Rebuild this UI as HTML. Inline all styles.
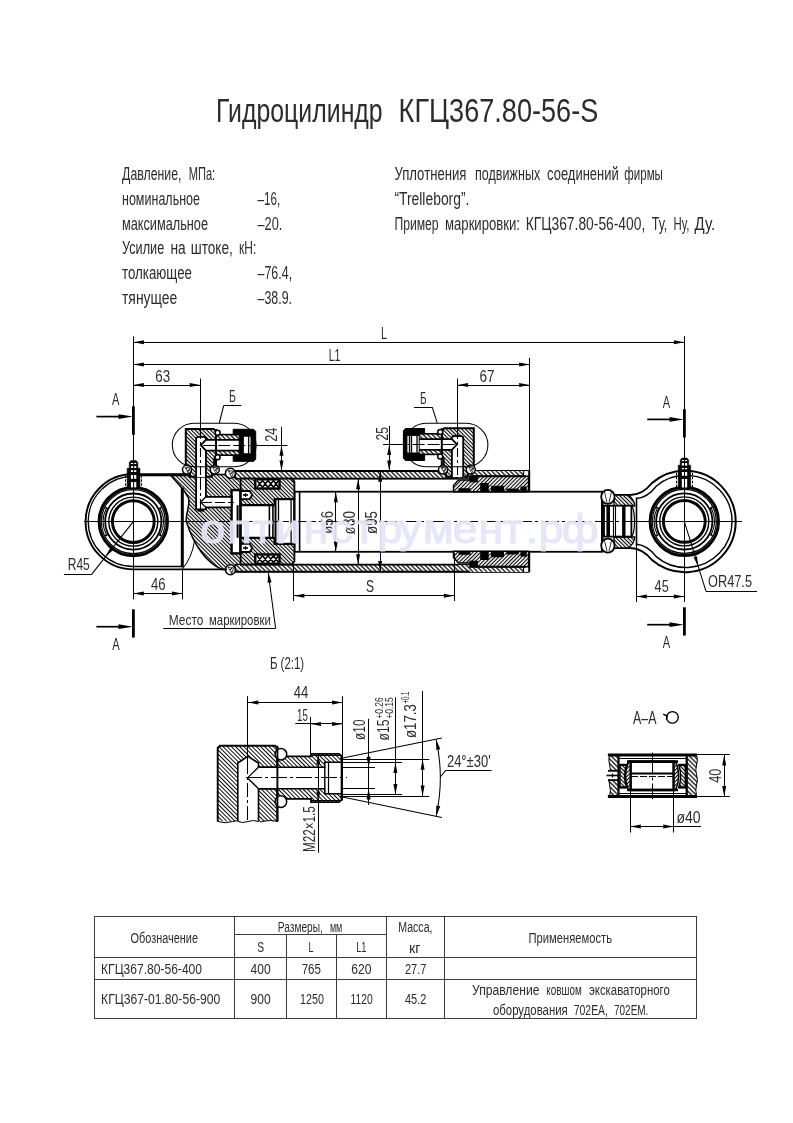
<!DOCTYPE html>
<html lang="ru"><head><meta charset="utf-8"><title>Гидроцилиндр КГЦ367.80-56-S</title>
<style>
html,body{margin:0;padding:0;background:#fff;}
body{width:793px;height:1123px;overflow:hidden;font-family:'Liberation Sans', sans-serif;}
svg{display:block;position:absolute;left:0;top:0;}
svg text{font-family:"Liberation Sans",sans-serif;}
svg{will-change:transform;}
</style></head><body>
<svg width="793" height="1123" viewBox="0 0 793 1123" stroke="#000" fill="none" stroke-linecap="butt">
<defs>
<pattern id="h1" width="2.7" height="2.7" patternUnits="userSpaceOnUse" patternTransform="rotate(-45)"><rect width="2.7" height="2.7" fill="#fff" stroke="none"/><line x1="1.35" y1="-1" x2="1.35" y2="3.7" stroke="#000" stroke-width="1.1"/></pattern>
<pattern id="h2" width="2.7" height="2.7" patternUnits="userSpaceOnUse" patternTransform="rotate(45)"><rect width="2.7" height="2.7" fill="#fff" stroke="none"/><line x1="1.35" y1="-1" x2="1.35" y2="3.7" stroke="#000" stroke-width="1.1"/></pattern>
<pattern id="h3" width="3.25" height="3.25" patternUnits="userSpaceOnUse" patternTransform="rotate(-45)"><rect width="3.25" height="3.25" fill="#fff" stroke="none"/><line x1="1.625" y1="-1" x2="1.625" y2="4.25" stroke="#000" stroke-width="1.2"/></pattern>
<pattern id="h4" width="3.25" height="3.25" patternUnits="userSpaceOnUse" patternTransform="rotate(45)"><rect width="3.25" height="3.25" fill="#fff" stroke="none"/><line x1="1.625" y1="-1" x2="1.625" y2="4.25" stroke="#000" stroke-width="1.2"/></pattern>
<pattern id="h5" width="2.95" height="2.95" patternUnits="userSpaceOnUse" patternTransform="rotate(-45)"><rect width="2.95" height="2.95" fill="#fff" stroke="none"/><line x1="1.475" y1="-1" x2="1.475" y2="3.95" stroke="#000" stroke-width="0.95"/></pattern>
</defs>
<text x="216.0" y="122.4" font-size="33" textLength="166.7" lengthAdjust="spacingAndGlyphs" text-anchor="start" fill="#2c2c2c" stroke="none" >Гидроцилиндр</text>
<text x="398.6" y="122.4" font-size="33" textLength="199.7" lengthAdjust="spacingAndGlyphs" text-anchor="start" fill="#2c2c2c" stroke="none" >КГЦ367.80-56-S</text>
<text x="122.1" y="180.2" font-size="17.5" textLength="59.3" lengthAdjust="spacingAndGlyphs" text-anchor="start" fill="#2c2c2c" stroke="none" >Давление,</text>
<text x="188.7" y="180.2" font-size="17.5" textLength="26.5" lengthAdjust="spacingAndGlyphs" text-anchor="start" fill="#2c2c2c" stroke="none" >МПа:</text>
<text x="122.0" y="205.0" font-size="17.5" textLength="78.0" lengthAdjust="spacingAndGlyphs" text-anchor="start" fill="#2c2c2c" stroke="none" >номинальное</text>
<text x="257.5" y="205.0" font-size="17.5" textLength="22.7" lengthAdjust="spacingAndGlyphs" text-anchor="start" fill="#2c2c2c" stroke="none" >–16,</text>
<text x="122.0" y="229.7" font-size="17.5" textLength="86.0" lengthAdjust="spacingAndGlyphs" text-anchor="start" fill="#2c2c2c" stroke="none" >максимальное</text>
<text x="257.5" y="229.7" font-size="17.5" textLength="24.8" lengthAdjust="spacingAndGlyphs" text-anchor="start" fill="#2c2c2c" stroke="none" >–20.</text>
<text x="122.1" y="254.3" font-size="17.5" textLength="42.1" lengthAdjust="spacingAndGlyphs" text-anchor="start" fill="#2c2c2c" stroke="none" >Усилие</text>
<text x="170.5" y="254.3" font-size="17.5" textLength="15.2" lengthAdjust="spacingAndGlyphs" text-anchor="start" fill="#2c2c2c" stroke="none" >на</text>
<text x="190.7" y="254.3" font-size="17.5" textLength="42.1" lengthAdjust="spacingAndGlyphs" text-anchor="start" fill="#2c2c2c" stroke="none" >штоке,</text>
<text x="239.1" y="254.3" font-size="17.5" textLength="17.2" lengthAdjust="spacingAndGlyphs" text-anchor="start" fill="#2c2c2c" stroke="none" >кН:</text>
<text x="122.0" y="279.1" font-size="17.5" textLength="70.0" lengthAdjust="spacingAndGlyphs" text-anchor="start" fill="#2c2c2c" stroke="none" >толкающее</text>
<text x="257.5" y="279.1" font-size="17.5" textLength="34.6" lengthAdjust="spacingAndGlyphs" text-anchor="start" fill="#2c2c2c" stroke="none" >–76.4,</text>
<text x="122.0" y="303.8" font-size="17.5" textLength="55.3" lengthAdjust="spacingAndGlyphs" text-anchor="start" fill="#2c2c2c" stroke="none" >тянущее</text>
<text x="257.5" y="303.8" font-size="17.5" textLength="34.5" lengthAdjust="spacingAndGlyphs" text-anchor="start" fill="#2c2c2c" stroke="none" >–38.9.</text>
<text x="394.4" y="180.2" font-size="17.5" textLength="72.1" lengthAdjust="spacingAndGlyphs" text-anchor="start" fill="#2c2c2c" stroke="none" >Уплотнения</text>
<text x="475.0" y="180.2" font-size="17.5" textLength="65.2" lengthAdjust="spacingAndGlyphs" text-anchor="start" fill="#2c2c2c" stroke="none" >подвижных</text>
<text x="547.1" y="180.2" font-size="17.5" textLength="71.6" lengthAdjust="spacingAndGlyphs" text-anchor="start" fill="#2c2c2c" stroke="none" >соединений</text>
<text x="624.3" y="180.2" font-size="17.5" textLength="38.6" lengthAdjust="spacingAndGlyphs" text-anchor="start" fill="#2c2c2c" stroke="none" >фирмы</text>
<text x="394.4" y="205.0" font-size="17.5" textLength="75.0" lengthAdjust="spacingAndGlyphs" text-anchor="start" fill="#2c2c2c" stroke="none" >“Trelleborg”.</text>
<text x="394.4" y="229.7" font-size="17.5" textLength="44.2" lengthAdjust="spacingAndGlyphs" text-anchor="start" fill="#2c2c2c" stroke="none" >Пример</text>
<text x="445.0" y="229.7" font-size="17.5" textLength="75.0" lengthAdjust="spacingAndGlyphs" text-anchor="start" fill="#2c2c2c" stroke="none" >маркировки:</text>
<text x="525.7" y="229.7" font-size="17.5" textLength="119.6" lengthAdjust="spacingAndGlyphs" text-anchor="start" fill="#2c2c2c" stroke="none" >КГЦ367.80-56-400,</text>
<text x="651.7" y="229.7" font-size="17.5" textLength="15.5" lengthAdjust="spacingAndGlyphs" text-anchor="start" fill="#2c2c2c" stroke="none" >Ту,</text>
<text x="673.6" y="229.7" font-size="17.5" textLength="15.9" lengthAdjust="spacingAndGlyphs" text-anchor="start" fill="#2c2c2c" stroke="none" >Ну,</text>
<text x="694.6" y="229.7" font-size="17.5" textLength="20.6" lengthAdjust="spacingAndGlyphs" text-anchor="start" fill="#2c2c2c" stroke="none" >Ду.</text>
<path d="M170,474.6 L231,474.6 L236,478.8 L240.8,478.8 L240.8,564.6 L236,564.6 L233,569.4 L222,569.4 C207,563 194,546 186.3,521.5 C185.5,512 190.5,506 188.5,498 L184,490.5 Z" stroke-width="1.5" fill="url(#h1)" />
<path d="M182.4,569 C189,561 193,551 194.5,541" stroke-width="1.05" fill="none" />
<rect x="235.3" y="471.1" width="293.9" height="7.6" stroke-width="1.0" fill="url(#h3)" />
<rect x="235.3" y="564.6" width="293.9" height="7.2" stroke-width="1.0" fill="url(#h3)" />
<line x1="234.0" y1="471.1" x2="529.2" y2="471.1" stroke-width="2.0" />
<line x1="234.0" y1="571.8" x2="529.2" y2="571.8" stroke-width="2.0" />
<line x1="240.0" y1="478.7" x2="458.0" y2="478.7" stroke-width="1.8" />
<line x1="240.0" y1="564.6" x2="458.0" y2="564.6" stroke-width="1.8" />
<rect x="294.5" y="491.7" width="307.8" height="60.1" stroke-width="1.8" fill="#fff" />
<line x1="299.6" y1="491.7" x2="299.6" y2="551.8" stroke-width="1.6" />
<line x1="602.3" y1="491.7" x2="602.3" y2="551.8" stroke-width="2.6" />
<rect x="470.0" y="471.1" width="59.2" height="5.1" stroke-width="0" fill="#fff" stroke="none"/>
<rect x="470.0" y="471.1" width="53.3" height="4.6" stroke-width="0" fill="url(#h3)" stroke="none"/>
<path d="M453.5,485.5 L458.5,480.0 L470,480.0 L470,476.2 L528.6,476.2 L528.6,491.7 L453.5,491.7 Z" stroke-width="1.5" fill="url(#h2)" />
<line x1="470.0" y1="476.2" x2="526.0" y2="476.2" stroke-width="2.0" />
<line x1="523.5" y1="471.1" x2="523.5" y2="476.2" stroke-width="1.2" />
<rect x="469.4" y="476.2" width="8.5" height="6.1" stroke-width="0" fill="#000" stroke="none"/>
<rect x="458.6" y="488.2" width="11.9" height="3.5" stroke-width="0" fill="#000" stroke="none"/>
<rect x="480.2" y="483.0" width="8.5" height="8.7" stroke-width="0" fill="#000" stroke="none"/>
<rect x="491.0" y="485.8" width="13.0" height="5.9" stroke-width="0" fill="#000" stroke="none"/>
<rect x="506.3" y="488.6" width="12.5" height="3.1" stroke-width="0" fill="#000" stroke="none"/>
<rect x="520.5" y="486.4" width="6.2" height="5.3" stroke-width="0" fill="#000" stroke="none"/>
<line x1="529.2" y1="471.1" x2="529.2" y2="491.7" stroke-width="2.0" />
<rect x="470.0" y="566.8" width="59.2" height="5.1" stroke-width="0" fill="#fff" stroke="none"/>
<rect x="470.0" y="567.3" width="53.3" height="4.6" stroke-width="0" fill="url(#h3)" stroke="none"/>
<path d="M453.5,557.5 L458.5,563.0 L470,563.0 L470,566.8 L528.6,566.8 L528.6,551.3 L453.5,551.3 Z" stroke-width="1.5" fill="url(#h2)" />
<line x1="470.0" y1="566.8" x2="526.0" y2="566.8" stroke-width="2.0" />
<line x1="523.5" y1="571.9" x2="523.5" y2="566.8" stroke-width="1.2" />
<rect x="469.4" y="560.7" width="8.5" height="6.1" stroke-width="0" fill="#000" stroke="none"/>
<rect x="458.6" y="551.3" width="11.9" height="3.5" stroke-width="0" fill="#000" stroke="none"/>
<rect x="480.2" y="551.3" width="8.5" height="8.7" stroke-width="0" fill="#000" stroke="none"/>
<rect x="491.0" y="551.3" width="13.0" height="5.9" stroke-width="0" fill="#000" stroke="none"/>
<rect x="506.3" y="551.3" width="12.5" height="3.1" stroke-width="0" fill="#000" stroke="none"/>
<rect x="520.5" y="551.3" width="6.2" height="5.3" stroke-width="0" fill="#000" stroke="none"/>
<line x1="529.2" y1="571.9" x2="529.2" y2="551.3" stroke-width="2.0" />
<path d="M240.6,478.7 L292,478.7 L294.4,481.5 L294.4,499.1 L274.4,499.1 L274.4,505.2 L240.6,505.2 Z" stroke-width="1.8" fill="url(#h1)" />
<rect x="255.3" y="479.3" width="24.2" height="9.2" stroke-width="2.4" fill="#fff" />
<path d="M257,480.5 L262.5,487.3 L268,480.5 L273.5,487.3 L278.5,480.5 M257,487.3 L262.5,480.5 L268,487.3 L273.5,480.5 L278.5,487.3" stroke-width="1.5" fill="none" />
<path d="M240.6,491.0 L249.7,491.0 L252.3,495.0 L249.7,499.1 L240.6,499.1 Z" stroke-width="1.8" fill="#fff" />
<line x1="243.0" y1="495.0" x2="248.0" y2="495.0" stroke-width="1.6" />
<line x1="245.5" y1="493.2" x2="245.5" y2="496.9" stroke-width="1.2" />
<line x1="237.6" y1="505.2" x2="237.6" y2="521.5" stroke-width="2.0" />
<line x1="240.6" y1="505.2" x2="240.6" y2="521.5" stroke-width="1.4" />
<line x1="269.4" y1="505.2" x2="269.4" y2="521.5" stroke-width="1.6" />
<line x1="272.9" y1="505.2" x2="272.9" y2="521.5" stroke-width="1.6" />
<line x1="275.5" y1="499.1" x2="275.5" y2="521.5" stroke-width="2.0" />
<line x1="278.5" y1="499.1" x2="278.5" y2="521.5" stroke-width="1.3" />
<line x1="291.1" y1="499.1" x2="291.1" y2="521.5" stroke-width="1.3" />
<line x1="294.2" y1="499.1" x2="294.2" y2="521.5" stroke-width="2.0" />
<line x1="237.6" y1="505.2" x2="274.4" y2="505.2" stroke-width="2.2" />
<line x1="274.4" y1="499.1" x2="294.4" y2="499.1" stroke-width="2.2" />
<path d="M240.6,564.3 L292,564.3 L294.4,561.5 L294.4,543.9 L274.4,543.9 L274.4,537.8 L240.6,537.8 Z" stroke-width="1.8" fill="url(#h1)" />
<rect x="255.3" y="554.5" width="24.2" height="9.2" stroke-width="2.4" fill="#fff" />
<path d="M257,562.5 L262.5,555.7 L268,562.5 L273.5,555.7 L278.5,562.5 M257,555.7 L262.5,562.5 L268,555.7 L273.5,562.5 L278.5,555.7" stroke-width="1.5" fill="none" />
<path d="M240.6,552.0 L249.7,552.0 L252.3,548.0 L249.7,543.9 L240.6,543.9 Z" stroke-width="1.8" fill="#fff" />
<line x1="243.0" y1="548.0" x2="248.0" y2="548.0" stroke-width="1.6" />
<line x1="245.5" y1="549.8" x2="245.5" y2="546.1" stroke-width="1.2" />
<line x1="237.6" y1="537.8" x2="237.6" y2="521.5" stroke-width="2.0" />
<line x1="240.6" y1="537.8" x2="240.6" y2="521.5" stroke-width="1.4" />
<line x1="269.4" y1="537.8" x2="269.4" y2="521.5" stroke-width="1.6" />
<line x1="272.9" y1="537.8" x2="272.9" y2="521.5" stroke-width="1.6" />
<line x1="275.5" y1="543.9" x2="275.5" y2="521.5" stroke-width="2.0" />
<line x1="278.5" y1="543.9" x2="278.5" y2="521.5" stroke-width="1.3" />
<line x1="291.1" y1="543.9" x2="291.1" y2="521.5" stroke-width="1.3" />
<line x1="294.2" y1="543.9" x2="294.2" y2="521.5" stroke-width="2.0" />
<line x1="237.6" y1="537.8" x2="274.4" y2="537.8" stroke-width="2.2" />
<line x1="274.4" y1="543.9" x2="294.4" y2="543.9" stroke-width="2.2" />
<rect x="231.6" y="490.1" width="8.7" height="63.3" stroke-width="2.4" fill="#fff" />
<line x1="237.6" y1="505.2" x2="237.6" y2="537.8" stroke-width="2.0" />
<path d="M196.1,474.6 L196.1,509.4 L205.9,509.4 L205.9,507.4 L231.6,507.4 L231.6,496.8 L205.9,496.8 L205.9,474.6 Z" stroke-width="1.8" fill="#fff" />
<path d="M205.9,496.8 L200.5,502.3 L205.9,507.4" stroke-width="1.3" fill="none" />
<line x1="197.5" y1="510.6" x2="204.0" y2="510.6" stroke-width="2.0" />
<line x1="200.5" y1="430.0" x2="200.5" y2="512.0" stroke-width="1.05" stroke-dasharray="14 3 3 3"/>
<line x1="202.0" y1="502.5" x2="234.0" y2="502.5" stroke-width="1.05" stroke-dasharray="10 3"/>
<circle cx="230.4" cy="473.2" r="5.0" stroke-width="1.5" fill="#fff" />
<path d="M227.9,470.4 L233.9,471.2 L231.7,477.2 Z" stroke-width="0.6" fill="url(#h2)" />
<circle cx="230.4" cy="569.8" r="5.0" stroke-width="1.5" fill="#fff" />
<path d="M227.9,567.0 L233.9,567.8 L231.7,573.8 Z" stroke-width="0.6" fill="url(#h2)" />
<path d="M133.3,474 A47.7,47.7 0 0 0 133.3,569.4" stroke-width="1.9" fill="none" />
<path d="M133.3,476.4 A45.05,45.05 0 0 0 133.3,566.5" stroke-width="1.3" fill="none" />
<line x1="139.7" y1="474.8" x2="191.0" y2="474.8" stroke-width="3.0" />
<line x1="133.0" y1="569.4" x2="227.0" y2="569.4" stroke-width="1.9" />
<line x1="133.0" y1="566.5" x2="182.3" y2="566.5" stroke-width="1.7" />
<line x1="182.3" y1="487.6" x2="182.3" y2="567.3" stroke-width="3" />
<circle cx="133.3" cy="521.6" r="34.2" stroke-width="3.0" fill="#fff" />
<circle cx="133.3" cy="521.6" r="32.0" stroke-width="1.2" fill="none" />
<circle cx="133.3" cy="521.6" r="28.1" stroke-width="1.8" fill="none" />
<circle cx="133.3" cy="521.6" r="24.5" stroke-width="1.4" fill="none" />
<circle cx="133.3" cy="521.6" r="20.9" stroke-width="2.9" fill="none" />
<path d="M160.1,507.9 A30.1,30.1 0 0 1 160.1,535.3" stroke-width="1.05" fill="none" />
<line x1="158.4" y1="508.8" x2="161.8" y2="507.1" stroke-width="1.2" />
<line x1="158.4" y1="534.4" x2="161.8" y2="536.1" stroke-width="1.2" />
<path d="M106.5,535.3 A30.1,30.1 0 0 1 106.5,507.9" stroke-width="1.05" fill="none" />
<line x1="108.2" y1="534.4" x2="104.8" y2="536.1" stroke-width="1.2" />
<line x1="108.2" y1="508.8" x2="104.8" y2="507.1" stroke-width="1.2" />
<line x1="92.3" y1="521.5" x2="174.3" y2="521.5" stroke-width="1.05" />
<line x1="133.5" y1="482.6" x2="133.5" y2="571.6" stroke-width="1.05" />
<path d="M129.25,468.3 L129.25,462.5 L130.95000000000002,460.6 L136.15,460.6 L137.85000000000002,462.5 L137.85000000000002,468.3 L139.95000000000002,468.3 L139.95000000000002,488.4 L127.15,488.4 L127.15,468.3 Z" stroke-width="0.6" fill="#000" />
<rect x="130.9" y="462.9" width="2.2" height="1.2" stroke-width="0" fill="#fff" stroke="none"/>
<rect x="134.1" y="462.9" width="2.2" height="1.2" stroke-width="0" fill="#fff" stroke="none"/>
<rect x="130.9" y="466.1" width="2.2" height="1.8" stroke-width="0" fill="#fff" stroke="none"/>
<rect x="134.1" y="466.1" width="2.2" height="1.8" stroke-width="0" fill="#fff" stroke="none"/>
<rect x="130.9" y="470.2" width="2.2" height="1.8" stroke-width="0" fill="#fff" stroke="none"/>
<rect x="134.1" y="470.2" width="2.2" height="1.8" stroke-width="0" fill="#fff" stroke="none"/>
<rect x="130.9" y="475.0" width="2.2" height="3.8" stroke-width="0" fill="#fff" stroke="none"/>
<rect x="134.1" y="475.0" width="2.2" height="3.8" stroke-width="0" fill="#fff" stroke="none"/>
<rect x="130.9" y="482.0" width="2.2" height="5.4" stroke-width="0" fill="#fff" stroke="none"/>
<rect x="134.1" y="482.0" width="2.2" height="5.4" stroke-width="0" fill="#fff" stroke="none"/>
<line x1="125.5" y1="475.3" x2="125.5" y2="488.4" stroke-width="1.0" stroke-dasharray="2.5 1.5"/>
<line x1="141.5" y1="475.3" x2="141.5" y2="488.4" stroke-width="1.0" stroke-dasharray="2.5 1.5"/>
<line x1="84.0" y1="521.5" x2="190.0" y2="521.5" stroke-width="1.05" />
<path d="M185.8,429 L213.7,429 L216.0,431.5 L216.0,456 L214.2,459 L214.2,470 L211.9,470 L211.9,476.7 L190.0,476.7 L190.0,470 L185.8,470 Z" stroke-width="2.0" fill="url(#h1)" />
<path d="M196.1,477 L196.1,438 L198.1,436.8 L203.7,436.8 L205.9,438 L205.9,477" stroke-width="1.8" fill="#fff" />
<rect x="216.0" y="434.6" width="27.2" height="20.6" stroke-width="1.6" fill="url(#h3)" />
<path d="M200.8,445.2 L205.9,439.9 L243.2,439.9 L243.2,450.6 L205.9,450.6 Z" stroke-width="1.8" fill="#fff" />
<path d="M233.2,429.3 L253.7,429.3 L255.7,431.5 L255.7,459 L253.7,461.3 L233.2,461.3 L233.2,455.2 L239.2,455.2 L239.2,434.6 L233.2,434.6 Z" stroke-width="1.0" fill="#000" />
<rect x="243.3" y="436.2" width="7.7" height="17.6" stroke-width="1.0" fill="#fff" />
<line x1="248.6" y1="436.4" x2="248.6" y2="453.6" stroke-width="1.3" />
<line x1="203.2" y1="445.5" x2="250.2" y2="445.5" stroke-width="1.05" stroke-dasharray="12 3"/>
<line x1="216.0" y1="429.0" x2="216.0" y2="470.0" stroke-width="2.0" />
<line x1="200.5" y1="430.0" x2="200.5" y2="478.0" stroke-width="1.05" stroke-dasharray="9 3 3 3"/>
<circle cx="187.0" cy="469.6" r="4.5" stroke-width="1.5" fill="#fff" />
<path d="M184.8,467.1 L190.2,467.8 L188.1,473.2 Z" stroke-width="0.6" fill="url(#h2)" />
<circle cx="214.8" cy="469.6" r="4.5" stroke-width="1.5" fill="#fff" />
<path d="M212.5,467.1 L217.9,467.8 L215.9,473.2 Z" stroke-width="0.6" fill="url(#h2)" />
<circle cx="217.6" cy="432.8" r="2.5" stroke-width="1.5" fill="#fff" />
<circle cx="217.6" cy="457.2" r="2.5" stroke-width="1.5" fill="#fff" />
<path d="M473.8,428.2 L444.1,428.2 L441.8,430.7 L441.8,456 L443.6,459 L443.6,470 L445.9,470 L445.9,476.7 L467.8,476.7 L467.8,470 L473.8,470 Z" stroke-width="2.0" fill="url(#h1)" />
<path d="M463.2,477 L463.2,437.2 L461.2,436.0 L454.1,436.0 L451.9,437.2 L451.9,477" stroke-width="1.8" fill="#fff" />
<rect x="414.6" y="433.8" width="27.2" height="20.6" stroke-width="1.6" fill="url(#h3)" />
<path d="M457.0,444.4 L451.9,439.09999999999997 L414.6,439.09999999999997 L414.6,449.8 L451.9,449.8 Z" stroke-width="1.8" fill="#fff" />
<path d="M424.6,428.5 L405.4,428.5 L403.4,430.7 L403.4,458.2 L405.4,460.5 L424.6,460.5 L424.6,454.4 L418.6,454.4 L418.6,433.8 L424.6,433.8 Z" stroke-width="1.0" fill="#000" />
<rect x="406.9" y="435.4" width="12.3" height="17.6" stroke-width="1.0" fill="#fff" />
<line x1="409.5" y1="435.6" x2="409.5" y2="452.8" stroke-width="1.3" />
<line x1="411.5" y1="435.6" x2="411.5" y2="452.8" stroke-width="1.3" />
<line x1="417.0" y1="435.6" x2="417.0" y2="452.8" stroke-width="1.3" />
<line x1="454.6" y1="444.5" x2="407.6" y2="444.5" stroke-width="1.05" stroke-dasharray="12 3"/>
<line x1="441.8" y1="428.2" x2="441.8" y2="470.0" stroke-width="2.0" />
<line x1="457.5" y1="430.0" x2="457.5" y2="478.0" stroke-width="1.05" stroke-dasharray="9 3 3 3"/>
<circle cx="470.8" cy="469.6" r="4.5" stroke-width="1.5" fill="#fff" />
<path d="M468.6,467.1 L473.9,467.8 L471.9,473.2 Z" stroke-width="0.6" fill="url(#h2)" />
<circle cx="443.0" cy="469.6" r="4.5" stroke-width="1.5" fill="#fff" />
<path d="M440.8,467.1 L446.1,467.8 L444.1,473.2 Z" stroke-width="0.6" fill="url(#h2)" />
<circle cx="440.2" cy="432.0" r="2.5" stroke-width="1.5" fill="#fff" />
<circle cx="440.2" cy="456.4" r="2.5" stroke-width="1.5" fill="#fff" />
<path d="M614,495.1 L630,495.1 C640,495 646,490.5 652,483 A50.7,50.7 0 1 1 652,560 C646,552.5 640,548 630,547.9 L614,547.9" stroke-width="2.0" fill="none" />
<path d="M636.6,498.5 C645,497.8 651,493 656.2,486.2 A46.1,46.1 0 1 1 656.2,556.6 C651,549.8 645,545 636.6,544.3" stroke-width="1.4" fill="none" />
<path d="M614,495.1 L628,495.1 C632,497 634.6,502 634.8,506 L614,506 Z" stroke-width="1.3" fill="url(#h1)" />
<path d="M614,547.9 L628,547.9 C632,546 634.6,541 634.8,537 L614,537 Z" stroke-width="1.3" fill="url(#h1)" />
<path d="M631.4,505.7 C635.5,510 635.5,533 631.4,536.8" stroke-width="1.2" fill="none" />
<line x1="636.5" y1="497.5" x2="636.5" y2="546.0" stroke-width="1.6" />
<rect x="604.0" y="505.7" width="27.4" height="30.9" stroke-width="1.8" fill="#fff" />
<line x1="608.2" y1="505.7" x2="608.2" y2="536.6" stroke-width="3.6" />
<line x1="613.5" y1="505.7" x2="613.5" y2="536.6" stroke-width="1.1" />
<line x1="615.5" y1="505.7" x2="615.5" y2="536.6" stroke-width="1.1" />
<line x1="623.8" y1="505.7" x2="623.8" y2="536.6" stroke-width="3.4" />
<ellipse cx="607.9" cy="496.9" rx="6.7" ry="7" stroke-width="1.8" fill="#fff"/>
<path d="M604.5,491.9 L607,502.4 M611.5,491.9 L609,502.4" stroke-width="0.8" fill="none" />
<ellipse cx="607.9" cy="545.6" rx="6.7" ry="7" stroke-width="1.8" fill="#fff"/>
<path d="M604.5,540.6 L607,551.1 M611.5,540.6 L609,551.1" stroke-width="0.8" fill="none" />
<circle cx="684.3" cy="521.4" r="34.2" stroke-width="3.0" fill="#fff" />
<circle cx="684.3" cy="521.4" r="32.0" stroke-width="1.2" fill="none" />
<circle cx="684.3" cy="521.4" r="28.1" stroke-width="1.8" fill="none" />
<circle cx="684.3" cy="521.4" r="24.5" stroke-width="1.4" fill="none" />
<circle cx="684.3" cy="521.4" r="20.9" stroke-width="2.9" fill="none" />
<path d="M711.1,507.7 A30.1,30.1 0 0 1 711.1,535.1" stroke-width="1.05" fill="none" />
<line x1="709.4" y1="508.6" x2="712.8" y2="506.9" stroke-width="1.2" />
<line x1="709.4" y1="534.2" x2="712.8" y2="535.9" stroke-width="1.2" />
<path d="M657.5,535.1 A30.1,30.1 0 0 1 657.5,507.7" stroke-width="1.05" fill="none" />
<line x1="659.2" y1="534.2" x2="655.8" y2="535.9" stroke-width="1.2" />
<line x1="659.2" y1="508.6" x2="655.8" y2="506.9" stroke-width="1.2" />
<line x1="643.3" y1="521.5" x2="725.3" y2="521.5" stroke-width="1.05" />
<line x1="684.5" y1="482.4" x2="684.5" y2="571.4" stroke-width="1.05" />
<path d="M680.25,465.2 L680.25,460.0 L681.85,458.1 L687.0500000000001,458.1 L688.6500000000001,460.0 L688.6500000000001,465.2 L690.6500000000001,465.2 L690.6500000000001,487.9 L678.25,487.9 L678.25,465.2 Z" stroke-width="0.6" fill="#000" />
<rect x="681.8" y="460.1" width="2.2" height="1.1" stroke-width="0" fill="#fff" stroke="none"/>
<rect x="685.0" y="460.1" width="2.2" height="1.1" stroke-width="0" fill="#fff" stroke="none"/>
<rect x="681.8" y="463.1" width="2.2" height="2.5" stroke-width="0" fill="#fff" stroke="none"/>
<rect x="685.0" y="463.1" width="2.2" height="2.5" stroke-width="0" fill="#fff" stroke="none"/>
<rect x="681.8" y="468.0" width="2.2" height="1.2" stroke-width="0" fill="#fff" stroke="none"/>
<rect x="685.0" y="468.0" width="2.2" height="1.2" stroke-width="0" fill="#fff" stroke="none"/>
<rect x="681.8" y="472.0" width="2.2" height="3.8" stroke-width="0" fill="#fff" stroke="none"/>
<rect x="685.0" y="472.0" width="2.2" height="3.8" stroke-width="0" fill="#fff" stroke="none"/>
<rect x="681.8" y="479.0" width="2.2" height="8.5" stroke-width="0" fill="#fff" stroke="none"/>
<rect x="685.0" y="479.0" width="2.2" height="8.5" stroke-width="0" fill="#fff" stroke="none"/>
<line x1="676.5" y1="472.8" x2="676.5" y2="487.9" stroke-width="1.0" stroke-dasharray="2.5 1.5"/>
<line x1="692.5" y1="472.8" x2="692.5" y2="487.9" stroke-width="1.0" stroke-dasharray="2.5 1.5"/>
<line x1="636.4" y1="521.5" x2="742.0" y2="521.5" stroke-width="1.05" />
<line x1="190.0" y1="521.5" x2="640.0" y2="521.5" stroke-width="1.05" stroke-dasharray="18 3 3 3"/>
<line x1="133.5" y1="336.4" x2="133.5" y2="460.0" stroke-width="1.05" />
<line x1="684.5" y1="336.0" x2="684.5" y2="458.0" stroke-width="1.05" />
<line x1="133.4" y1="342.5" x2="684.4" y2="342.5" stroke-width="1.05" />
<path d="M133.4,342.2 L143.9,340.2 L143.9,344.2 Z" fill="#000" stroke="none"/>
<path d="M684.4,342.2 L673.9,344.2 L673.9,340.2 Z" fill="#000" stroke="none"/>
<text x="381.0" y="338.7" font-size="16.5" textLength="6.0" lengthAdjust="spacingAndGlyphs" text-anchor="start" fill="#2c2c2c" stroke="none" >L</text>
<line x1="529.5" y1="358.0" x2="529.5" y2="471.0" stroke-width="1.05" />
<line x1="133.4" y1="364.5" x2="529.6" y2="364.5" stroke-width="1.05" />
<path d="M133.4,364.4 L143.9,362.4 L143.9,366.4 Z" fill="#000" stroke="none"/>
<path d="M529.6,364.4 L519.1,366.4 L519.1,362.4 Z" fill="#000" stroke="none"/>
<text x="328.7" y="361.0" font-size="16.5" textLength="11.8" lengthAdjust="spacingAndGlyphs" text-anchor="start" fill="#2c2c2c" stroke="none" >L1</text>
<line x1="200.5" y1="378.5" x2="200.5" y2="430.0" stroke-width="1.05" />
<line x1="133.4" y1="385.5" x2="200.2" y2="385.5" stroke-width="1.05" />
<path d="M133.4,385.1 L143.9,383.1 L143.9,387.1 Z" fill="#000" stroke="none"/>
<path d="M200.2,385.1 L189.7,387.1 L189.7,383.1 Z" fill="#000" stroke="none"/>
<text x="155.3" y="381.8" font-size="16.5" textLength="14.9" lengthAdjust="spacingAndGlyphs" text-anchor="start" fill="#2c2c2c" stroke="none" >63</text>
<line x1="457.5" y1="378.5" x2="457.5" y2="430.0" stroke-width="1.05" />
<line x1="457.6" y1="385.5" x2="529.6" y2="385.5" stroke-width="1.05" />
<path d="M457.6,385.1 L468.1,383.1 L468.1,387.1 Z" fill="#000" stroke="none"/>
<path d="M529.6,385.1 L519.1,387.1 L519.1,383.1 Z" fill="#000" stroke="none"/>
<text x="479.5" y="382.2" font-size="16.5" textLength="15.0" lengthAdjust="spacingAndGlyphs" text-anchor="start" fill="#2c2c2c" stroke="none" >67</text>
<line x1="133.4" y1="406.3" x2="133.4" y2="434.8" stroke-width="2.8" />
<line x1="96.4" y1="416.6" x2="123.4" y2="416.6" stroke-width="1.7" />
<path d="M133.0,416.6 L118.5,419.0 L118.5,414.2 Z" fill="#000" stroke="none"/>
<text x="112.0" y="405.0" font-size="17.3" textLength="7.4" lengthAdjust="spacingAndGlyphs" text-anchor="start" fill="#2c2c2c" stroke="none" >A</text>
<line x1="133.4" y1="609.3" x2="133.4" y2="637.6" stroke-width="2.8" />
<line x1="96.4" y1="626.7" x2="123.4" y2="626.7" stroke-width="1.7" />
<path d="M133.0,626.7 L118.5,629.1 L118.5,624.3 Z" fill="#000" stroke="none"/>
<text x="112.3" y="650.2" font-size="17.3" textLength="7.4" lengthAdjust="spacingAndGlyphs" text-anchor="start" fill="#2c2c2c" stroke="none" >A</text>
<line x1="684.4" y1="409.2" x2="684.4" y2="437.6" stroke-width="2.8" />
<line x1="647.2" y1="419.4" x2="674.4" y2="419.4" stroke-width="1.7" />
<path d="M684.0,419.4 L669.5,421.8 L669.5,417.0 Z" fill="#000" stroke="none"/>
<text x="662.8" y="407.8" font-size="17.3" textLength="7.4" lengthAdjust="spacingAndGlyphs" text-anchor="start" fill="#2c2c2c" stroke="none" >A</text>
<line x1="684.4" y1="607.3" x2="684.4" y2="635.6" stroke-width="2.8" />
<line x1="647.2" y1="624.7" x2="674.4" y2="624.7" stroke-width="1.7" />
<path d="M684.0,624.7 L669.5,627.1 L669.5,622.3 Z" fill="#000" stroke="none"/>
<text x="662.8" y="648.3" font-size="17.3" textLength="7.4" lengthAdjust="spacingAndGlyphs" text-anchor="start" fill="#2c2c2c" stroke="none" >A</text>
<text x="229.0" y="401.8" font-size="17" textLength="6.9" lengthAdjust="spacingAndGlyphs" text-anchor="start" fill="#2c2c2c" stroke="none" >Б</text>
<line x1="223.7" y1="405.5" x2="241.3" y2="405.5" stroke-width="1.05" />
<line x1="223.7" y1="405.5" x2="219.3" y2="423.0" stroke-width="1.05" />
<text x="420.0" y="403.6" font-size="17" textLength="6.6" lengthAdjust="spacingAndGlyphs" text-anchor="start" fill="#2c2c2c" stroke="none" >Б</text>
<line x1="413.9" y1="407.5" x2="432.2" y2="407.5" stroke-width="1.05" />
<line x1="432.2" y1="407.1" x2="437.2" y2="422.8" stroke-width="1.05" />
<path d="M194,423.3 L234.5,423.3 A21.7,21.7 0 0 1 234.5,466.7 L194,466.7 A21.7,21.7 0 0 1 194,423.3 Z" stroke-width="1.05" fill="none" />
<path d="M426,423.3 L466.2,423.3 A21.7,21.7 0 0 1 466.2,466.7 L426,466.7 A21.7,21.7 0 0 1 426,423.3 Z" stroke-width="1.05" fill="none" />
<line x1="255.0" y1="445.5" x2="287.5" y2="445.5" stroke-width="1.05" />
<line x1="281.5" y1="426.8" x2="281.5" y2="471.0" stroke-width="1.05" />
<path d="M281.5,445.3 L283.5,455.8 L279.5,455.8 Z" fill="#000" stroke="none"/>
<path d="M281.5,471.0 L279.5,460.5 L283.5,460.5 Z" fill="#000" stroke="none"/>
<text x="277.4" y="441.8" font-size="16.5" textLength="14.1" lengthAdjust="spacingAndGlyphs" transform="rotate(-90 277.4 441.8)" text-anchor="start" fill="#2c2c2c" stroke="none" >24</text>
<line x1="383.0" y1="444.5" x2="403.5" y2="444.5" stroke-width="1.05" />
<line x1="389.5" y1="426.0" x2="389.5" y2="471.0" stroke-width="1.05" />
<path d="M389.2,444.5 L391.2,455.0 L387.2,455.0 Z" fill="#000" stroke="none"/>
<path d="M389.2,471.0 L387.2,460.5 L391.2,460.5 Z" fill="#000" stroke="none"/>
<text x="387.6" y="440.6" font-size="16.5" textLength="13.6" lengthAdjust="spacingAndGlyphs" transform="rotate(-90 387.6 440.6)" text-anchor="start" fill="#2c2c2c" stroke="none" >25</text>
<line x1="335.5" y1="491.7" x2="335.5" y2="551.9" stroke-width="1.05" />
<path d="M335.8,491.7 L337.8,502.2 L333.8,502.2 Z" fill="#000" stroke="none"/>
<path d="M335.8,551.9 L333.8,541.4 L337.8,541.4 Z" fill="#000" stroke="none"/>
<text x="333.1" y="533.7" font-size="16.5" textLength="22.7" lengthAdjust="spacingAndGlyphs" transform="rotate(-90 333.1 533.7)" text-anchor="start" fill="#2c2c2c" stroke="none" >ø56</text>
<line x1="358.5" y1="478.8" x2="358.5" y2="564.8" stroke-width="1.05" />
<path d="M358.1,478.8 L360.1,489.3 L356.1,489.3 Z" fill="#000" stroke="none"/>
<path d="M358.1,564.8 L356.1,554.3 L360.1,554.3 Z" fill="#000" stroke="none"/>
<text x="355.1" y="534.4" font-size="16.5" textLength="23.4" lengthAdjust="spacingAndGlyphs" transform="rotate(-90 355.1 534.4)" text-anchor="start" fill="#2c2c2c" stroke="none" >ø80</text>
<line x1="380.5" y1="471.3" x2="380.5" y2="571.6" stroke-width="1.05" />
<path d="M380.1,471.3 L382.1,481.8 L378.1,481.8 Z" fill="#000" stroke="none"/>
<path d="M380.1,571.6 L378.1,561.1 L382.1,561.1 Z" fill="#000" stroke="none"/>
<text x="376.9" y="534.0" font-size="16.5" textLength="23.0" lengthAdjust="spacingAndGlyphs" transform="rotate(-90 376.9 534.0)" text-anchor="start" fill="#2c2c2c" stroke="none" >ø95</text>
<line x1="293.5" y1="565.0" x2="293.5" y2="601.0" stroke-width="1.05" />
<line x1="454.5" y1="553.0" x2="454.5" y2="601.0" stroke-width="1.05" />
<line x1="293.9" y1="595.5" x2="454.3" y2="595.5" stroke-width="1.05" />
<path d="M293.9,595.7 L304.4,593.7 L304.4,597.7 Z" fill="#000" stroke="none"/>
<path d="M454.3,595.7 L443.8,597.7 L443.8,593.7 Z" fill="#000" stroke="none"/>
<text x="366.0" y="592.3" font-size="16.5" textLength="8.0" lengthAdjust="spacingAndGlyphs" text-anchor="start" fill="#2c2c2c" stroke="none" >S</text>
<line x1="133.5" y1="569.0" x2="133.5" y2="599.3" stroke-width="1.05" />
<line x1="182.5" y1="569.0" x2="182.5" y2="599.3" stroke-width="1.05" />
<line x1="133.3" y1="593.5" x2="182.4" y2="593.5" stroke-width="1.05" />
<path d="M133.3,593.4 L143.8,591.4 L143.8,595.4 Z" fill="#000" stroke="none"/>
<path d="M182.4,593.4 L171.9,595.4 L171.9,591.4 Z" fill="#000" stroke="none"/>
<text x="150.9" y="589.5" font-size="16.5" textLength="14.6" lengthAdjust="spacingAndGlyphs" text-anchor="start" fill="#2c2c2c" stroke="none" >46</text>
<line x1="636.5" y1="546.0" x2="636.5" y2="602.0" stroke-width="1.05" />
<line x1="684.5" y1="572.0" x2="684.5" y2="602.0" stroke-width="1.05" />
<line x1="636.4" y1="596.5" x2="684.3" y2="596.5" stroke-width="1.05" />
<path d="M636.4,596.4 L646.9,594.4 L646.9,598.4 Z" fill="#000" stroke="none"/>
<path d="M684.3,596.4 L673.8,598.4 L673.8,594.4 Z" fill="#000" stroke="none"/>
<text x="654.6" y="592.3" font-size="16.5" textLength="14.1" lengthAdjust="spacingAndGlyphs" text-anchor="start" fill="#2c2c2c" stroke="none" >45</text>
<text x="67.7" y="570.3" font-size="16.5" textLength="22.1" lengthAdjust="spacingAndGlyphs" text-anchor="start" fill="#2c2c2c" stroke="none" >R45</text>
<line x1="63.9" y1="574.5" x2="91.6" y2="574.5" stroke-width="1.05" />
<line x1="91.6" y1="574.3" x2="133.3" y2="521.6" stroke-width="1.05" />
<path d="M105.3,557.0 L110.1,548.0 L112.9,550.3 Z" fill="#000" stroke="none"/>
<text x="708.0" y="586.9" font-size="16.5" textLength="44.0" lengthAdjust="spacingAndGlyphs" text-anchor="start" fill="#2c2c2c" stroke="none" >OR47.5</text>
<line x1="706.0" y1="591.5" x2="757.0" y2="591.5" stroke-width="1.05" />
<line x1="706.0" y1="591.3" x2="684.3" y2="521.4" stroke-width="1.05" />
<path d="M698.2,566.3 L693.5,557.3 L697.0,556.2 Z" fill="#000" stroke="none"/>
<text x="168.8" y="624.9" font-size="14.8" textLength="34.6" lengthAdjust="spacingAndGlyphs" text-anchor="start" fill="#2c2c2c" stroke="none" >Место</text>
<text x="209.0" y="624.9" font-size="14.8" textLength="61.8" lengthAdjust="spacingAndGlyphs" text-anchor="start" fill="#2c2c2c" stroke="none" >маркировки</text>
<line x1="163.2" y1="628.5" x2="275.6" y2="628.5" stroke-width="1.05" />
<line x1="275.6" y1="628.3" x2="268.3" y2="573.0" stroke-width="1.05" />
<path d="M268.3,572.6 L271.6,582.2 L267.6,582.8 Z" fill="#000" stroke="none"/>
<text x="269.9" y="668.9" font-size="17.2" textLength="34.3" lengthAdjust="spacingAndGlyphs" text-anchor="start" fill="#2c2c2c" stroke="none" >Б (2:1)</text>
<path d="M217.7,821.5 L217.7,748 L220,745.8 L275,745.8 L277.4,748 L277.4,821.5" stroke-width="1.9" fill="url(#h5)" />
<path d="M217.7,821.5 q7.5,2.5 15,0 t15,0 t15,0 t14.7,0" stroke-width="1.0" fill="#fff" />
<path d="M237.8,823 L237.8,763 L247.9,756.4 L258.5,763 L258.5,767.3 L277.4,767.3 L277.4,788.7 L258.5,788.7 L258.5,823 Z" stroke-width="1.6" fill="#fff" stroke-linejoin="miter"/>
<rect x="236.0" y="821.5" width="24.0" height="4.5" stroke-width="0" fill="#fff" stroke="none"/>
<path d="M237.8,821.5 q5,2 10.3,0 t10.4,0" stroke-width="1.0" fill="none" />
<path d="M277.4,756.4 L311,756.4 L311,753.9 L339,753.9 L341.5,756 L341.5,799.8 L339,802.1 L311,802.1 L311,798.8 L277.4,798.8 Z" stroke-width="1.8" fill="url(#h5)" />
<path d="M258.5,767.3 L324.8,767.3 L324.8,762.2 L341.5,762.2 L341.5,793.8 L324.8,793.8 L324.8,788.7 L258.5,788.7" stroke-width="1.6" fill="#fff" />
<path d="M258.5,767.3 L247.5,777.9 L258.5,788.7" stroke-width="1.3" fill="#fff" />
<line x1="328.5" y1="762.2" x2="328.5" y2="793.8" stroke-width="1.2" />
<line x1="324.8" y1="767.3" x2="324.8" y2="788.7" stroke-width="1.4" />
<line x1="311.0" y1="755.5" x2="341.0" y2="755.5" stroke-width="1.0" />
<line x1="311.0" y1="800.5" x2="341.0" y2="800.5" stroke-width="1.0" />
<circle cx="280.9" cy="754.2" r="5.8" stroke-width="1.5" fill="#fff" />
<circle cx="280.9" cy="801.6" r="5.8" stroke-width="1.5" fill="#fff" />
<line x1="277.4" y1="745.8" x2="277.4" y2="821.5" stroke-width="1.9" />
<line x1="247.5" y1="696.2" x2="247.5" y2="760.0" stroke-width="1.05" />
<line x1="247.5" y1="760.0" x2="247.5" y2="822.0" stroke-width="1.05" stroke-dasharray="14 3 3 3"/>
<line x1="246.0" y1="777.5" x2="347.0" y2="777.5" stroke-width="1.05" stroke-dasharray="16 3 3 3"/>
<line x1="342.5" y1="696.1" x2="342.5" y2="800.5" stroke-width="1.05" />
<line x1="247.9" y1="702.5" x2="342.5" y2="702.5" stroke-width="1.05" />
<path d="M247.9,702.5 L258.4,700.5 L258.4,704.5 Z" fill="#000" stroke="none"/>
<path d="M342.5,702.5 L332.0,704.5 L332.0,700.5 Z" fill="#000" stroke="none"/>
<text x="293.8" y="697.9" font-size="16.5" textLength="14.6" lengthAdjust="spacingAndGlyphs" text-anchor="start" fill="#2c2c2c" stroke="none" >44</text>
<line x1="310.5" y1="716.8" x2="310.5" y2="754.0" stroke-width="1.05" />
<line x1="295.3" y1="723.5" x2="342.5" y2="723.5" stroke-width="1.05" />
<path d="M310.5,723.9 L321.0,721.9 L321.0,725.9 Z" fill="#000" stroke="none"/>
<path d="M342.5,723.9 L332.0,725.9 L332.0,721.9 Z" fill="#000" stroke="none"/>
<text x="297.1" y="720.6" font-size="16.5" textLength="10.8" lengthAdjust="spacingAndGlyphs" text-anchor="start" fill="#2c2c2c" stroke="none" >15</text>
<line x1="318.5" y1="754.0" x2="318.5" y2="852.6" stroke-width="1.05" />
<path d="M318.3,754.0 L320.3,764.5 L316.3,764.5 Z" fill="#000" stroke="none"/>
<path d="M318.3,802.0 L316.3,791.5 L320.3,791.5 Z" fill="#000" stroke="none"/>
<text x="315.3" y="852.1" font-size="16.5" textLength="46.0" lengthAdjust="spacingAndGlyphs" transform="rotate(-90 315.3 852.1)" text-anchor="start" fill="#2c2c2c" stroke="none" >M22×1.5</text>
<line x1="342.0" y1="767.5" x2="375.0" y2="767.5" stroke-width="1.05" />
<line x1="342.0" y1="788.5" x2="375.0" y2="788.5" stroke-width="1.05" />
<line x1="368.5" y1="718.8" x2="368.5" y2="805.0" stroke-width="1.05" />
<path d="M368.6,767.3 L366.6,756.8 L370.6,756.8 Z" fill="#000" stroke="none"/>
<path d="M368.6,788.9 L370.6,799.4 L366.6,799.4 Z" fill="#000" stroke="none"/>
<text x="365.2" y="739.9" font-size="16.5" textLength="20.4" lengthAdjust="spacingAndGlyphs" transform="rotate(-90 365.2 739.9)" text-anchor="start" fill="#2c2c2c" stroke="none" >ø10</text>
<line x1="342.0" y1="762.5" x2="402.2" y2="762.5" stroke-width="1.05" />
<line x1="342.0" y1="794.5" x2="402.2" y2="794.5" stroke-width="1.05" />
<line x1="395.5" y1="697.2" x2="395.5" y2="794.4" stroke-width="1.05" />
<path d="M395.4,762.4 L397.4,772.9 L393.4,772.9 Z" fill="#000" stroke="none"/>
<path d="M395.4,794.4 L393.4,783.9 L397.4,783.9 Z" fill="#000" stroke="none"/>
<text x="389.0" y="740.4" font-size="16.5" textLength="20.9" lengthAdjust="spacingAndGlyphs" transform="rotate(-90 389.0 740.4)" text-anchor="start" fill="#2c2c2c" stroke="none" >ø15</text>
<text x="383.3" y="718.8" font-size="11" textLength="21.6" lengthAdjust="spacingAndGlyphs" transform="rotate(-90 383.3 718.8)" text-anchor="start" fill="#2c2c2c" stroke="none" >+0.26</text>
<text x="393.0" y="718.8" font-size="11" textLength="21.6" lengthAdjust="spacingAndGlyphs" transform="rotate(-90 393.0 718.8)" text-anchor="start" fill="#2c2c2c" stroke="none" >+0.15</text>
<line x1="342.0" y1="759.5" x2="429.2" y2="759.5" stroke-width="1.05" />
<line x1="342.0" y1="796.5" x2="429.2" y2="796.5" stroke-width="1.05" />
<line x1="422.5" y1="690.9" x2="422.5" y2="796.0" stroke-width="1.05" />
<path d="M422.6,759.2 L424.6,769.7 L420.6,769.7 Z" fill="#000" stroke="none"/>
<path d="M422.6,796.0 L420.6,785.5 L424.6,785.5 Z" fill="#000" stroke="none"/>
<text x="416.2" y="738.1" font-size="16.5" textLength="34.1" lengthAdjust="spacingAndGlyphs" transform="rotate(-90 416.2 738.1)" text-anchor="start" fill="#2c2c2c" stroke="none" >ø17.3</text>
<text x="409.4" y="703.6" font-size="11" textLength="12.0" lengthAdjust="spacingAndGlyphs" transform="rotate(-90 409.4 703.6)" text-anchor="start" fill="#2c2c2c" stroke="none" >+0.1</text>
<line x1="340.2" y1="758.5" x2="441.9" y2="738.1" stroke-width="1.05" />
<line x1="340.2" y1="796.6" x2="441.9" y2="817.5" stroke-width="1.05" />
<path d="M436.2,739.9 Q444.5,777.8 436.2,815.7" stroke-width="1.05" fill="none" />
<path d="M436.2,739.4 L440.3,749.3 L436.3,750.1 Z" fill="#000" stroke="none"/>
<path d="M436.2,816.2 L436.3,805.5 L440.3,806.3 Z" fill="#000" stroke="none"/>
<text x="446.9" y="767.1" font-size="16.5" textLength="43.8" lengthAdjust="spacingAndGlyphs" text-anchor="start" fill="#2c2c2c" stroke="none" >24°±30'</text>
<line x1="445.8" y1="770.5" x2="491.6" y2="770.5" stroke-width="1.05" />
<line x1="445.8" y1="770.3" x2="440.2" y2="777.0" stroke-width="1.05" />
<text x="633.0" y="723.9" font-size="18.2" textLength="23.4" lengthAdjust="spacingAndGlyphs" text-anchor="start" fill="#2c2c2c" stroke="none" >А–А</text>
<circle cx="672.4" cy="717.4" r="5.8" stroke-width="1.3" fill="none" />
<path d="M663.2,714.2 L667.3,716.2 L666.2,719.6" stroke-width="1.3" fill="none" />
<path d="M618.5,754.9 L609.6,754.9 q-1.6,5 0,10 t0,10 t0,10 t0,11.5 L618.5,796.4 Z" stroke-width="1.0" fill="url(#h3)" />
<path d="M686.7,754.9 L696.6,754.9 q1.6,5 0,10 t0,10 t0,10 t0,11.5 L686.7,796.4 Z" stroke-width="1.0" fill="url(#h3)" />
<rect x="606.5" y="770.8" width="12.0" height="9.3" stroke-width="0" fill="#fff" stroke="none"/>
<line x1="608.0" y1="770.8" x2="618.5" y2="770.8" stroke-width="1.8" />
<line x1="608.0" y1="780.1" x2="618.5" y2="780.1" stroke-width="1.8" />
<line x1="606.5" y1="775.5" x2="619.0" y2="775.5" stroke-width="1.6" />
<line x1="612.5" y1="773.5" x2="612.5" y2="777.5" stroke-width="1.2" />
<line x1="607.9" y1="754.9" x2="697.0" y2="754.9" stroke-width="3.0" />
<line x1="607.9" y1="796.4" x2="697.0" y2="796.4" stroke-width="3.0" />
<line x1="618.5" y1="754.9" x2="618.5" y2="796.4" stroke-width="2.2" />
<line x1="686.7" y1="754.9" x2="686.7" y2="796.4" stroke-width="2.2" />
<line x1="618.5" y1="758.5" x2="686.7" y2="758.5" stroke-width="1.1" />
<line x1="618.5" y1="793.5" x2="686.7" y2="793.5" stroke-width="1.1" />
<path d="M619.9,764.9 L626.5,764.9 Q622.8,776 626.5,787.4 L619.9,787.4 Z" stroke-width="1.5" fill="url(#h1)" />
<path d="M685.4,764.9 L678.8,764.9 Q682.5,776 678.8,787.4 L685.4,787.4 Z" stroke-width="1.5" fill="url(#h1)" />
<path d="M630.7,761.6 L628.5,761.6 Q622.5,776 628.5,790 L630.7,790 Z" stroke-width="1.5" fill="url(#h2)" />
<path d="M673.5,761.6 L675.7,761.6 Q681.7,776 675.7,790 L673.5,790 Z" stroke-width="1.5" fill="url(#h2)" />
<rect x="630.7" y="761.6" width="42.8" height="28.4" stroke-width="2.4" fill="#fff" />
<line x1="627.1" y1="761.6" x2="678.1" y2="761.6" stroke-width="2.6" />
<line x1="627.1" y1="790.0" x2="678.1" y2="790.0" stroke-width="2.6" />
<line x1="619.5" y1="764.9" x2="627.0" y2="764.9" stroke-width="2.2" />
<line x1="678.5" y1="764.9" x2="685.7" y2="764.9" stroke-width="2.2" />
<line x1="619.5" y1="787.4" x2="627.0" y2="787.4" stroke-width="2.2" />
<line x1="678.5" y1="787.4" x2="685.7" y2="787.4" stroke-width="2.2" />
<line x1="631.0" y1="773.5" x2="673.0" y2="773.5" stroke-width="2.2" />
<line x1="631.0" y1="776.5" x2="673.0" y2="776.5" stroke-width="1.0" stroke-dasharray="7 2"/>
<line x1="652.5" y1="752.5" x2="652.5" y2="799.2" stroke-width="1.05" stroke-dasharray="22 3 3 3"/>
<line x1="696.0" y1="754.5" x2="729.8" y2="754.5" stroke-width="1.05" />
<line x1="696.0" y1="796.5" x2="729.8" y2="796.5" stroke-width="1.05" />
<line x1="724.5" y1="754.9" x2="724.5" y2="796.4" stroke-width="1.05" />
<path d="M724.2,754.9 L726.2,765.4 L722.2,765.4 Z" fill="#000" stroke="none"/>
<path d="M724.2,796.4 L722.2,785.9 L726.2,785.9 Z" fill="#000" stroke="none"/>
<text x="720.8" y="782.7" font-size="16.5" textLength="14.1" lengthAdjust="spacingAndGlyphs" transform="rotate(-90 720.8 782.7)" text-anchor="start" fill="#2c2c2c" stroke="none" >40</text>
<line x1="630.5" y1="790.4" x2="630.5" y2="832.6" stroke-width="1.05" />
<line x1="673.5" y1="790.4" x2="673.5" y2="832.6" stroke-width="1.05" />
<line x1="630.4" y1="826.5" x2="701.0" y2="826.5" stroke-width="1.05" />
<path d="M630.4,826.5 L640.9,824.5 L640.9,828.5 Z" fill="#000" stroke="none"/>
<path d="M673.7,826.5 L663.2,828.5 L663.2,824.5 Z" fill="#000" stroke="none"/>
<text x="676.4" y="823.1" font-size="16.5" textLength="24.2" lengthAdjust="spacingAndGlyphs" text-anchor="start" fill="#2c2c2c" stroke="none" >ø40</text>
<rect x="94.5" y="916.5" width="602.0" height="102.0" stroke-width="1.0" fill="none" stroke="#3c3c3c"/>
<line x1="234.5" y1="916.3" x2="234.5" y2="1018.4" stroke-width="1.0" stroke="#3c3c3c"/>
<line x1="286.5" y1="934.9" x2="286.5" y2="1018.4" stroke-width="1.0" stroke="#3c3c3c"/>
<line x1="336.5" y1="934.9" x2="336.5" y2="1018.4" stroke-width="1.0" stroke="#3c3c3c"/>
<line x1="386.5" y1="916.3" x2="386.5" y2="1018.4" stroke-width="1.0" stroke="#3c3c3c"/>
<line x1="444.5" y1="916.3" x2="444.5" y2="1018.4" stroke-width="1.0" stroke="#3c3c3c"/>
<line x1="234.3" y1="934.5" x2="386.9" y2="934.5" stroke-width="1.0" stroke="#3c3c3c"/>
<line x1="94.3" y1="957.5" x2="696.0" y2="957.5" stroke-width="1.0" stroke="#3c3c3c"/>
<line x1="94.3" y1="979.5" x2="696.0" y2="979.5" stroke-width="1.0" stroke="#3c3c3c"/>
<text x="130.6" y="943.3" font-size="15.2" textLength="67.4" lengthAdjust="spacingAndGlyphs" text-anchor="start" fill="#2c2c2c" stroke="none" >Обозначение</text>
<text x="277.7" y="931.6" font-size="15.2" textLength="45.2" lengthAdjust="spacingAndGlyphs" text-anchor="start" fill="#2c2c2c" stroke="none" >Размеры,</text>
<text x="329.9" y="931.6" font-size="15.2" textLength="12.4" lengthAdjust="spacingAndGlyphs" text-anchor="start" fill="#2c2c2c" stroke="none" >мм</text>
<text x="257.2" y="951.6" font-size="15.2" textLength="6.9" lengthAdjust="spacingAndGlyphs" text-anchor="start" fill="#2c2c2c" stroke="none" >S</text>
<text x="308.5" y="951.6" font-size="15.2" textLength="5.0" lengthAdjust="spacingAndGlyphs" text-anchor="start" fill="#2c2c2c" stroke="none" >L</text>
<text x="356.2" y="951.6" font-size="15.2" textLength="10.3" lengthAdjust="spacingAndGlyphs" text-anchor="start" fill="#2c2c2c" stroke="none" >L1</text>
<text x="398.2" y="932.0" font-size="15.2" textLength="34.3" lengthAdjust="spacingAndGlyphs" text-anchor="start" fill="#2c2c2c" stroke="none" >Масса,</text>
<text x="409.0" y="952.6" font-size="15.2" textLength="11.4" lengthAdjust="spacingAndGlyphs" text-anchor="start" fill="#2c2c2c" stroke="none" >кг</text>
<text x="528.5" y="943.3" font-size="15.2" textLength="83.5" lengthAdjust="spacingAndGlyphs" text-anchor="start" fill="#2c2c2c" stroke="none" >Применяемость</text>
<text x="101.1" y="973.6" font-size="15.2" textLength="100.9" lengthAdjust="spacingAndGlyphs" text-anchor="start" fill="#2c2c2c" stroke="none" >КГЦ367.80-56-400</text>
<text x="250.5" y="973.6" font-size="15.2" textLength="20.1" lengthAdjust="spacingAndGlyphs" text-anchor="start" fill="#2c2c2c" stroke="none" >400</text>
<text x="301.7" y="973.6" font-size="15.2" textLength="19.3" lengthAdjust="spacingAndGlyphs" text-anchor="start" fill="#2c2c2c" stroke="none" >765</text>
<text x="351.3" y="973.6" font-size="15.2" textLength="20.2" lengthAdjust="spacingAndGlyphs" text-anchor="start" fill="#2c2c2c" stroke="none" >620</text>
<text x="405.0" y="973.6" font-size="15.2" textLength="21.4" lengthAdjust="spacingAndGlyphs" text-anchor="start" fill="#2c2c2c" stroke="none" >27.7</text>
<text x="101.1" y="1004.3" font-size="15.2" textLength="119.1" lengthAdjust="spacingAndGlyphs" text-anchor="start" fill="#2c2c2c" stroke="none" >КГЦ367-01.80-56-900</text>
<text x="250.5" y="1004.3" font-size="15.2" textLength="20.1" lengthAdjust="spacingAndGlyphs" text-anchor="start" fill="#2c2c2c" stroke="none" >900</text>
<text x="300.1" y="1004.3" font-size="15.2" textLength="23.8" lengthAdjust="spacingAndGlyphs" text-anchor="start" fill="#2c2c2c" stroke="none" >1250</text>
<text x="350.5" y="1004.3" font-size="15.2" textLength="22.2" lengthAdjust="spacingAndGlyphs" text-anchor="start" fill="#2c2c2c" stroke="none" >1120</text>
<text x="405.0" y="1004.3" font-size="15.2" textLength="21.4" lengthAdjust="spacingAndGlyphs" text-anchor="start" fill="#2c2c2c" stroke="none" >45.2</text>
<text x="472.0" y="994.6" font-size="15.2" textLength="67.4" lengthAdjust="spacingAndGlyphs" text-anchor="start" fill="#2c2c2c" stroke="none" >Управление</text>
<text x="546.3" y="994.6" font-size="15.2" textLength="35.5" lengthAdjust="spacingAndGlyphs" text-anchor="start" fill="#2c2c2c" stroke="none" >ковшом</text>
<text x="589.0" y="994.6" font-size="15.2" textLength="80.8" lengthAdjust="spacingAndGlyphs" text-anchor="start" fill="#2c2c2c" stroke="none" >экскаваторного</text>
<text x="493.0" y="1014.8" font-size="15.2" textLength="74.7" lengthAdjust="spacingAndGlyphs" text-anchor="start" fill="#2c2c2c" stroke="none" >оборудования</text>
<text x="573.7" y="1014.8" font-size="15.2" textLength="34.3" lengthAdjust="spacingAndGlyphs" text-anchor="start" fill="#2c2c2c" stroke="none" >702ЕА,</text>
<text x="614.0" y="1014.8" font-size="15.2" textLength="34.4" lengthAdjust="spacingAndGlyphs" text-anchor="start" fill="#2c2c2c" stroke="none" >702ЕМ.</text>
<text transform="scale(1.09,1)" x="183.69 208.62 231.39 252.81 278.63 303.09 325.11 346.26 366.07 388.05 415.34 438.95 461.16 482.65 494.1 515.44" y="543.2" font-size="41" fill="#e4e4fa" fill-opacity="0.9" stroke="#e4e4fa" stroke-opacity="0.9" stroke-width="1.2" stroke-linejoin="round">оптинструмент.рф</text>
</svg>
</body></html>
